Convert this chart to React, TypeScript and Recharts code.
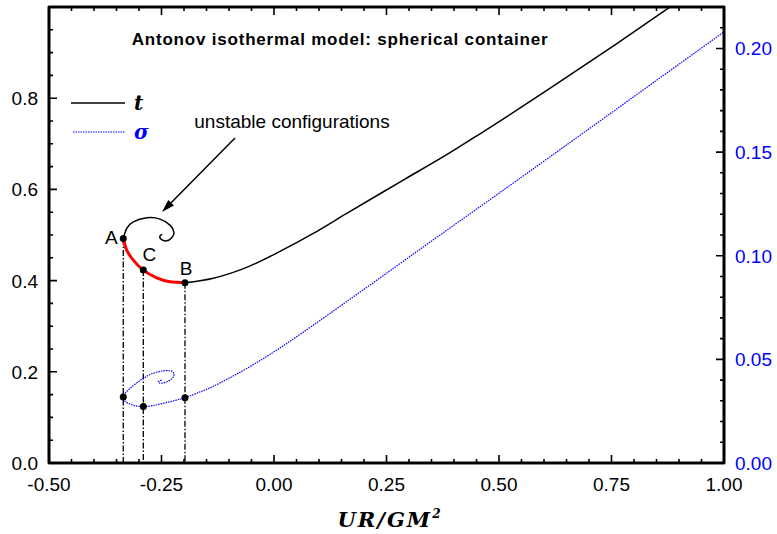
import { ComposedChart, Line, XAxis, YAxis, LabelList, Customized } from "recharts";

// t curve: unstable spiral, from its centre out to point A
const spiralU = [-0.2482, -0.2533, -0.2511, -0.2384, -0.2273, -0.2222, -0.2311, -0.2533, -0.2829, -0.3127, -0.3273, -0.335];
const spiralT = [0.5013, 0.4982, 0.491, 0.4872, 0.4938, 0.5056, 0.5216, 0.5348, 0.5376, 0.5289, 0.5144, 0.4925];
// red part A -> C -> B
const redU = [-0.335, -0.3273, -0.3127, -0.2904, -0.2607, -0.2311, -0.1978];
const redT = [0.4925, 0.4668, 0.4449, 0.423, 0.4061, 0.3974, 0.3952];
// stable branch from B on
const stableU = [-0.1978, -0.1349, -0.0607, 0.0133, 0.0873, 0.1616, 0.2356, 0.2873, 0.3911, 0.4578, 0.608, 0.7578, 0.88];
const stableT = [0.3952, 0.4052, 0.429, 0.464, 0.5035, 0.5473, 0.5905, 0.6205, 0.6805, 0.7219, 0.818, 0.917, 1.0];
// sigma curve (right axis), spiral centre outwards
const sigmaU = [-0.2496, -0.2571, -0.2496, -0.2311, -0.2222, -0.2311, -0.2607, -0.2904, -0.32, -0.335, -0.3238, -0.2904, -0.246, -0.1978, -0.1644, -0.1349, -0.0607, 0.0133, 0.0873, 0.1616, 0.2356, 0.3096, 0.3911, 0.6067, 1.0];
const sigmaS = [0.04, 0.0392, 0.0385, 0.04, 0.0425, 0.0445, 0.0438, 0.0409, 0.036, 0.0318, 0.0288, 0.0272, 0.0288, 0.0315, 0.0343, 0.037, 0.0456, 0.0555, 0.0665, 0.0779, 0.0893, 0.1008, 0.1134, 0.1467, 0.208];

// marked configurations
const markNames = ["A", "C", "B"];
const markU = [-0.335, -0.2904, -0.1978];
const markT = [0.4925, 0.423, 0.3952];
const markS = [0.0318, 0.0272, 0.0315];

// labelled ticks
const xMajor = [-0.5, -0.25, 0, 0.25, 0.5, 0.75, 1];
const leftMajor = [0, 0.2, 0.4, 0.6, 0.8];
const rightMajor = [0, 0.05, 0.1, 0.15, 0.2];

const steps = (from: number, to: number, step: number) =>
  Array.from({ length: Math.round((to - from) / step) + 1 }, (_, i) => +(from + i * step).toFixed(4));
const xTicks = steps(-0.5, 1, 0.05);
const leftTicks = steps(0, 0.95, 0.05);
const rightTicks = steps(0, 0.21, 0.01);

const isMajor = (v: number, majors: number[]) => majors.some((m) => Math.abs(m - v) < 1e-6);

const pts = (us: number[], vs: number[]) => us.map((u, i) => ({ u, v: vs[i] }));
const spiralData = pts(spiralU, spiralT);
const redData = pts(redU, redT);
const stableData = pts(stableU, stableT);
const sigmaData = pts(sigmaU, sigmaS);
const markTData = markU.map((u, i) => ({ u, v: markT[i], name: markNames[i] }));
const markSData = markU.map((u, i) => ({ u, v: markS[i] }));

const FONT = "Arial, 'Liberation Sans', sans-serif";
const BLUE = "#0000ff";

// plot box (set by the chart margins and axis sizes below)
const BOX = { left: 49, right: 724, top: 7, bottom: 463 };
const xPx = (u: number) => BOX.left + ((u + 0.5) / 1.5) * (BOX.right - BOX.left);
const yPxL = (v: number) => BOX.bottom - v * (BOX.bottom - BOX.top);
const yPxR = (v: number) => BOX.bottom - (v / 0.22) * (BOX.bottom - BOX.top);
const tickLen = (major: boolean) => (major ? 8 : 4);

const BottomLabel = ({ x, y, payload }: any) =>
  isMajor(payload.value, xMajor) ? (
    <text x={x} y={y + 28} textAnchor="middle" fontFamily={FONT} fontSize={19} fill="#000">
      {payload.value.toFixed(2)}
    </text>
  ) : (
    <g />
  );

const LeftLabel = ({ x, y, payload }: any) =>
  isMajor(payload.value, leftMajor) ? (
    <text x={x - 11} y={y + 7} textAnchor="end" fontFamily={FONT} fontSize={19} fill="#000">
      {payload.value.toFixed(1)}
    </text>
  ) : (
    <g />
  );

const RightLabel = ({ x, y, payload }: any) =>
  isMajor(payload.value, rightMajor) ? (
    <text x={x + 11} y={y + 7} textAnchor="start" fontFamily={FONT} fontSize={19} fill={BLUE}>
      {payload.value.toFixed(2)}
    </text>
  ) : (
    <g />
  );

// letter offsets from each marked point
const letterOffset: Record<string, [number, number]> = { A: [-12, 6], C: [6, -9], B: [1, -8] };

const Letter = ({ x, y, value }: any) => {
  const [dx, dy] = letterOffset[value] || [0, 0];
  return (
    <text x={x + dx} y={y + dy} textAnchor="middle" fontFamily={FONT} fontSize={19} fill="#000">
      {value}
    </text>
  );
};

const Arrow = ({ x1, y1, x2, y2 }: { x1: number; y1: number; x2: number; y2: number }) => {
  const len = Math.hypot(x2 - x1, y2 - y1);
  const ux = (x2 - x1) / len;
  const uy = (y2 - y1) / len;
  const bx = x2 - 13 * ux;
  const by = y2 - 13 * uy;
  return (
    <g>
      <line x1={x1} y1={y1} x2={bx} y2={by} stroke="#000" strokeWidth={1.5} />
      <polygon
        points={`${x2},${y2} ${bx - 4 * uy},${by + 4 * ux} ${bx + 4 * uy},${by - 4 * ux}`}
        fill="#000"
      />
    </g>
  );
};

// frame and inward tick marks on all four sides
const Frame = () => {
  const d: string[] = [];
  xTicks.forEach((v) => {
    const x = xPx(v);
    const l = tickLen(isMajor(v, xMajor));
    d.push(`M${x},${BOX.bottom}v${-l}`, `M${x},${BOX.top}v${l}`);
  });
  leftTicks.forEach((v) => {
    d.push(`M${BOX.left},${yPxL(v)}h${tickLen(isMajor(v, leftMajor))}`);
  });
  rightTicks.forEach((v) => {
    d.push(`M${BOX.right},${yPxR(v)}h${-tickLen(isMajor(v, rightMajor))}`);
  });
  return (
    <g>
      <path d={d.join("")} stroke="#000" strokeWidth={1.6} fill="none" />
      <rect
        x={BOX.left}
        y={BOX.top}
        width={BOX.right - BOX.left}
        height={BOX.bottom - BOX.top}
        fill="none"
        stroke="#000"
        strokeWidth={2.6}
      />
    </g>
  );
};

const Annotations = () => (
  <g>
    <Frame />
    <text x={340} y={45} textAnchor="middle" fontFamily={FONT} fontWeight="bold" fontSize={17} letterSpacing={0.8} fill="#000">
      Antonov isothermal model: spherical container
    </text>
    <line x1={71} y1={103} x2={125} y2={103} stroke="#000" strokeWidth={1.5} />
    <text x={134} y={110} fontFamily="'DejaVu Serif', serif" fontStyle="italic" fontWeight="bold" fontSize={20} fill="#000">
      t
    </text>
    <line x1={73} y1={132} x2={125} y2={132} stroke={BLUE} strokeWidth={1.2} strokeDasharray="1.5 1" />
    <text x={134} y={139} fontFamily="'DejaVu Serif', serif" fontStyle="italic" fontWeight="bold" fontSize={20} fill={BLUE}>
      σ
    </text>
    <text x={292} y={128} textAnchor="middle" fontFamily={FONT} fontSize={19} fill="#000">
      unstable configurations
    </text>
    <Arrow x1={235} y1={138} x2={162} y2={212} />
    <text x={390} y={527} textAnchor="middle" fontFamily="'DejaVu Serif', serif" fontStyle="italic" fontWeight="bold" fontSize={21} letterSpacing={2} fill="#000">
      UR/GM
      <tspan dy={-9} fontSize={12}>
        2
      </tspan>
    </text>
  </g>
);

const axisLine = { stroke: "#000", strokeWidth: 2.6 };

export default function App() {
  return (
    <div style={{ position: "absolute", left: 0, top: 0 }}>
      <ComposedChart width={777} height={534} margin={{ top: 5, right: 8, bottom: 31, left: 9 }}>
        <XAxis
          xAxisId="b"
          dataKey="u"
          type="number"
          domain={[-0.5, 1]}
          allowDataOverflow
          ticks={xTicks}
          interval={0}
          height={40}
          tickSize={0}
          tickMargin={0}
          tickLine={false}
          axisLine={axisLine}
          tick={BottomLabel}
        />
        <XAxis xAxisId="top" orientation="top" dataKey="u" type="number" domain={[-0.5, 1]} allowDataOverflow height={2} tick={false} tickLine={false} axisLine={axisLine} />
        <YAxis
          yAxisId="left"
          dataKey="v"
          type="number"
          domain={[0, 1]}
          allowDataOverflow
          ticks={leftTicks}
          interval={0}
          width={40}
          tickSize={0}
          tickMargin={0}
          tickLine={false}
          axisLine={axisLine}
          tick={LeftLabel}
        />
        <YAxis
          yAxisId="right"
          orientation="right"
          dataKey="v"
          type="number"
          domain={[0, 0.22]}
          allowDataOverflow
          ticks={rightTicks}
          interval={0}
          width={45}
          tickSize={0}
          tickMargin={0}
          tickLine={false}
          axisLine={axisLine}
          tick={RightLabel}
        />

        {markTData.map((m) => (
          <Line
            key={`drop-${m.name}`}
            xAxisId="b"
            yAxisId="left"
            data={[{ u: m.u, v: m.v }, { u: m.u, v: 0 }]}
            dataKey="v"
            type="linear"
            stroke="#000"
            strokeWidth={1.3}
            strokeDasharray="6 2 1.5 2"
            dot={false}
            activeDot={false}
            isAnimationActive={false}
          />
        ))}

        <Line xAxisId="b" yAxisId="right" data={sigmaData} dataKey="v" type="natural" stroke={BLUE} strokeWidth={1.2} strokeDasharray="1.5 1" dot={false} activeDot={false} isAnimationActive={false} />
        <Line xAxisId="b" yAxisId="left" data={spiralData} dataKey="v" type="natural" stroke="#000" strokeWidth={1.5} dot={false} activeDot={false} isAnimationActive={false} />
        <Line xAxisId="b" yAxisId="left" data={stableData} dataKey="v" type="monotone" stroke="#000" strokeWidth={1.5} dot={false} activeDot={false} isAnimationActive={false} />
        <Line xAxisId="b" yAxisId="left" data={redData} dataKey="v" type="natural" stroke="#ff0000" strokeWidth={3} dot={false} activeDot={false} isAnimationActive={false} />

        <Line xAxisId="b" yAxisId="left" data={markTData} dataKey="v" stroke="none" dot={{ r: 3.5, fill: "#000", stroke: "none" }} activeDot={false} isAnimationActive={false}>
          <LabelList dataKey="name" content={<Letter />} />
        </Line>
        <Line xAxisId="b" yAxisId="right" data={markSData} dataKey="v" stroke="none" dot={{ r: 3.5, fill: "#000", stroke: "none" }} activeDot={false} isAnimationActive={false} />

        <Customized component={<Annotations />} />
      </ComposedChart>
    </div>
  );
}
